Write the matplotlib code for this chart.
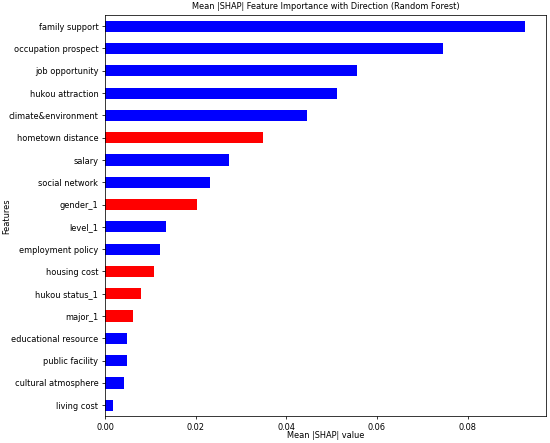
import matplotlib
matplotlib.use('Agg')
import matplotlib.pyplot as plt

# features from top to bottom, mean |SHAP| value and direction
features = ['family support', 'occupation prospect', 'job opportunity', 'hukou attraction',
            'climate&environment', 'hometown distance', 'salary', 'social network',
            'gender_1', 'level_1', 'employment policy', 'housing cost', 'hukou status_1',
            'major_1', 'educational resource', 'public facility', 'cultural atmosphere',
            'living cost']
mean_shap = [0.0927, 0.0745, 0.0555, 0.0511, 0.0446, 0.0348, 0.0273, 0.0232,
             0.0204, 0.0134, 0.0121, 0.0109, 0.0079, 0.0061, 0.0049, 0.0048,
             0.0042, 0.0018]
direction = ['pos', 'pos', 'pos', 'pos', 'pos', 'neg', 'pos', 'pos',
             'neg', 'pos', 'pos', 'neg', 'neg', 'neg', 'pos', 'pos', 'pos', 'pos']

# bottom to top for barh
features = features[::-1]
mean_shap = mean_shap[::-1]
direction = direction[::-1]
colors = ['red' if d == 'neg' else 'blue' for d in direction]

plt.rcParams['font.size'] = 8.6

fig, ax = plt.subplots(figsize=(8, 6.444), dpi=68.75)
ax.barh(range(len(features)), mean_shap, height=0.5, color=colors)
ax.set_yticks(range(len(features)))
ax.set_yticklabels(features)
ax.set_ylim(-0.5, len(features) - 0.5)
ax.set_title('Mean |SHAP| Feature Importance with Direction (Random Forest)', fontsize=8.6)
ax.set_xlabel('Mean |SHAP| value')
ax.set_ylabel('Features')
ax.xaxis.set_label_coords(0.5, -0.036)   # pegado a los ticks como en la referencia
ax.yaxis.set_label_coords(-0.212, 0.5)
fig.subplots_adjust(left=0.191, right=0.993, top=0.966, bottom=0.06)
fig.savefig('out.png', dpi=68.75)
